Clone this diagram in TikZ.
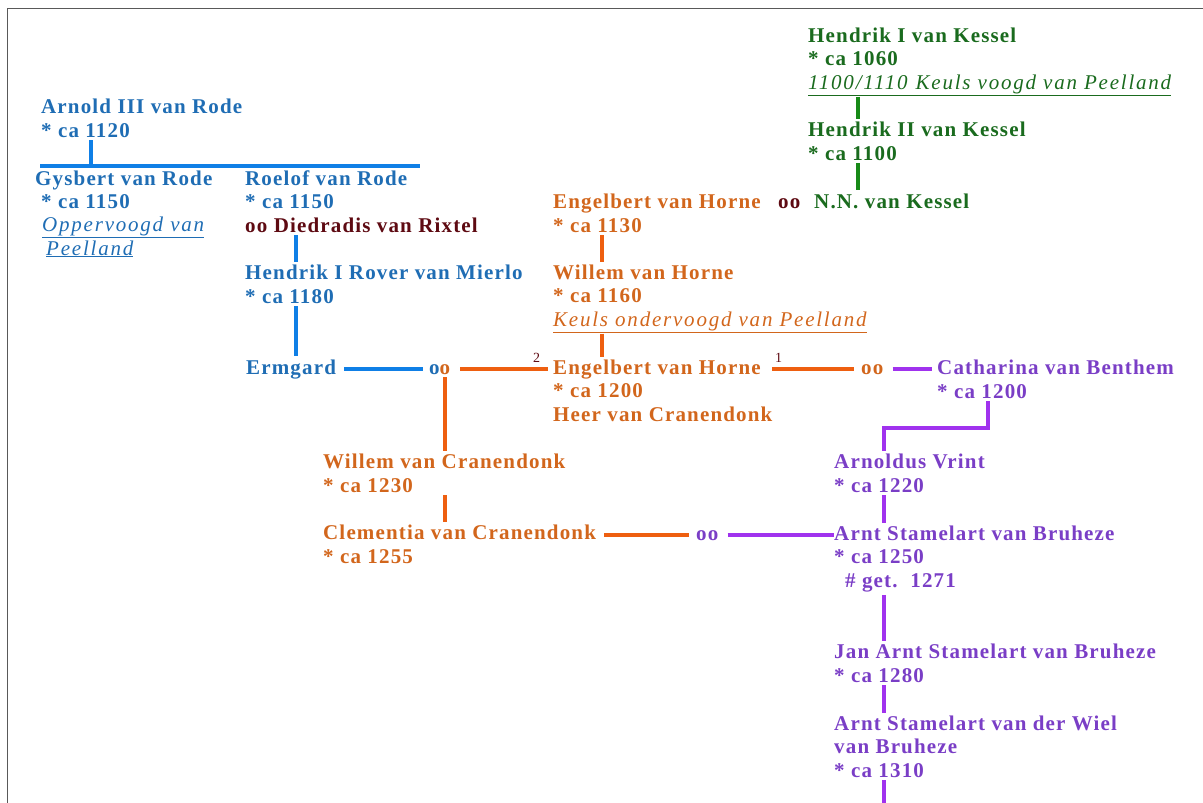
\documentclass[tikz,border=0pt]{standalone}
\usepackage{fontspec}
\setmainfont{Liberation Serif}[LetterSpace=5.5]
\definecolor{rodeblue}{HTML}{1F6DB4}
\definecolor{rodeline}{HTML}{0F7FE6}
\definecolor{kesselgreen}{HTML}{1A6B1E}
\definecolor{kesselline}{HTML}{178A17}
\definecolor{horneorange}{HTML}{D2661C}
\definecolor{horneline}{HTML}{EE5F10}
\definecolor{bruhezepurple}{HTML}{7A3EC6}
\definecolor{bruhezeline}{HTML}{A032EE}
\definecolor{huwelijk}{HTML}{5E0A12}
\newcommand{\ambt}[1]{\underline{\mdseries\itshape\addfontfeature{LetterSpace=8.5}#1}}
\begin{document}
\begin{tikzpicture}[x=1pt, y=-1pt,
  person/.style={font=\fontsize{21}{23.3}\selectfont\bfseries, align=left,
    anchor=base west, inner xsep=0pt, inner ysep=3pt},
  rode/.style={person, text=rodeblue},
  kessel/.style={person, text=kesselgreen},
  horne/.style={person, text=horneorange},
  bruheze/.style={person, text=bruhezepurple},
  nummer/.style={font=\fontsize{14}{14}\selectfont, text=huwelijk,
    anchor=base west, inner sep=0pt},
  tak/.style={line width=4pt},
  rodetak/.style={tak, draw=rodeline},
  kesseltak/.style={tak, draw=kesselline},
  hornetak/.style={tak, draw=horneline},
  bruhezetak/.style={tak, draw=bruhezeline}]
\useasboundingbox (0,0) rectangle (1203,803);
\draw[gray!70!black, line width=1pt] (7,803) -- (7,8) -- (1203,8);

% van Rode (nodes staan op de basislijn van hun laatste regel)
\node[rode] (arnold) at (41,137) {Arnold III van Rode\\* ca 1120};
\coordinate (barL) at (40,166);
\coordinate (barR) at (420,166);
\node[rode] (gysbert) at (35,255) {Gysbert van Rode\\\hspace*{6pt}* ca 1150\\
  \hspace*{7pt}\ambt{Oppervoogd van}\\\hspace*{11pt}\ambt{Peelland}};
\node[rode] (roelof) at (245,232) {Roelof van Rode\\* ca 1150\\
  \textcolor{huwelijk}{oo Diedradis van Rixtel}};
\node[rode] (hrover) at (245,303) {Hendrik I Rover van Mierlo\\* ca 1180};
\node[rode] (ermgard) at (246,374) {Ermgard};
\node[person] (ooA) at (429,374) {\textcolor{rodeblue}{o}\textcolor{horneorange}{o}};
\node[nummer] (two) at (533,362) {2};

% van Kessel
\node[kessel] (hkesselA) at (808,89) {Hendrik I van Kessel\\* ca 1060\\
  \ambt{1100/1110\hspace{8pt}Keuls voogd van Peelland}};
\node[kessel] (hkesselB) at (808,160) {Hendrik II van Kessel\\* ca 1100};
\node[kessel] (nnkessel) at (814,208) {N.N. van Kessel};

% van Horne / Cranendonk
\node[horne] (engelbertA) at (553,232) {Engelbert van Horne\\* ca 1130};
\node[person, text=huwelijk] (ooKessel) at (778,208) {oo};
\node[horne] (willemhorne) at (553,326) {Willem van Horne\\* ca 1160\\
  \ambt{Keuls ondervoogd van Peelland}};
\node[horne] (engelbertB) at (553,421) {Engelbert van Horne\\* ca 1200\\
  Heer van Cranendonk};
\node[nummer] (one) at (775,362) {1};
\node[horne] (ooB) at (861,374) {oo};
\node[horne] (willemcran) at (323,492) {Willem van Cranendonk\\* ca 1230};
\node[horne] (clementia) at (323,563) {Clementia van Cranendonk\\* ca 1255};
\node[bruheze] (ooC) at (696,540) {oo};

% van Bruheze
\node[bruheze] (catharina) at (937,398) {Catharina van Benthem\\* ca 1200};
\node[bruheze] (arnoldus) at (834,492) {Arnoldus Vrint\\* ca 1220};
\node[bruheze] (arntA) at (834,587) {Arnt Stamelart van Bruheze\\* ca 1250\\
  \hspace*{11pt}\#\ get.\ \ 1271};
\node[bruheze] (janarnt) at (834,682) {Jan Arnt Stamelart van Bruheze\\* ca 1280};
\node[bruheze] (arntwiel) at (834,777) {Arnt Stamelart van der Wiel\\van Bruheze\\
  * ca 1310};
\coordinate (rand) at (884,803);

% lijnen
\draw[rodetak] ([xshift=50pt]arnold.south west) -- ([xshift=50pt]arnold.south west |- barL);
\draw[rodetak] (barL) -- (barR);
\draw[rodetak] ([xshift=51pt]roelof.south west) -- ([xshift=51pt]hrover.north west);
\draw[rodetak] ([xshift=51pt]hrover.south west) -- ([xshift=50pt]ermgard.north west);
\draw[rodetak, shorten <=8pt, shorten >=6pt] (ermgard.east) -- (ermgard.east -| ooA.west);
\draw[hornetak, shorten <=10pt, shorten >=5pt] (ooA.east) -- (ooA.east -| engelbertB.west);
\coordinate (ooAdown) at ([xshift=5pt]ooA.south);
\draw[hornetak] (ooAdown) -- (ooAdown |- willemcran.north);
\draw[hornetak] (willemcran.south -| ooAdown) -- (clementia.north -| ooAdown);
\draw[hornetak, shorten <=8pt, shorten >=7pt] (ooC.west -| clementia.east) -- (ooC.west);
\draw[bruhezetak, shorten <=9pt] (ooC.east) -- (ooC.east -| arntA.west);

\draw[kesseltak] ([xshift=50pt,yshift=2pt]hkesselA.south west) -- ([xshift=50pt]hkesselB.north west);
\draw[kesseltak] ([xshift=50pt]hkesselB.south west) -- ([xshift=44pt]nnkessel.north west);
\draw[hornetak] ([xshift=49pt]engelbertA.south west) -- ([xshift=49pt]willemhorne.north west);
\draw[hornetak] ([xshift=49pt,yshift=2pt]willemhorne.south west) -- ([xshift=49pt]engelbertB.north west);
\draw[hornetak, shorten <=-3pt, shorten >=7pt] (ooB.west -| one.west) -- (ooB.west);
\draw[bruhezetak, shorten <=9pt, shorten >=5pt] (ooB.east) -- (ooB.east -| catharina.west);
\draw[bruhezetak] ([xshift=51pt]catharina.south west)
  |- ([xshift=50pt,yshift=23pt]arnoldus.north west) -- ([xshift=50pt]arnoldus.north west);
\draw[bruhezetak] ([xshift=50pt]arnoldus.south west) -- ([xshift=50pt]arntA.north west);
\draw[bruhezetak] ([xshift=50pt]arntA.south west) -- ([xshift=50pt]janarnt.north west);
\draw[bruhezetak] ([xshift=50pt]janarnt.south west) -- ([xshift=50pt]arntwiel.north west);
\draw[bruhezetak] ([xshift=50pt]arntwiel.south west) -- (rand);
\end{tikzpicture}
\end{document}
